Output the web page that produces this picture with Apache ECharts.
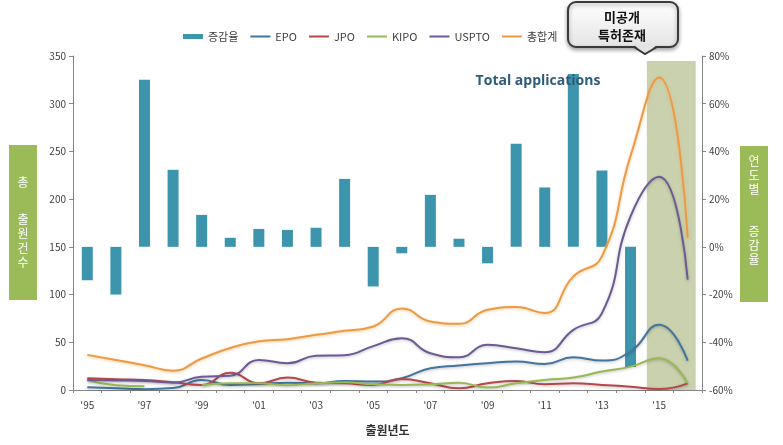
<!DOCTYPE html>
<html><head><meta charset="utf-8">
<script src="https://cdn.jsdelivr.net/npm/echarts@6/dist/echarts.min.js"></script>
<style>html,body{margin:0;padding:0;background:#fff}#c{width:783px;height:445px}</style>
</head><body><div id="c"></div>
<script>
const years = ['1995','1996','1997','1998','1999','2000','2001','2002','2003','2004','2005','2006','2007','2008','2009','2010','2011','2012','2013','2014','2015','2016'];
const growthRate = [-14, -20, 70, 32.3, 13.4, 3.8, 7.5, 7.1, 8.0, 28.5, -16.6, -2.7, 21.8, 3.4, -6.9, 43.2, 24.9, 72.5, 32.0, -50.4, null, null];
const epo   = [2.8, 1.8, 0.8, 2, 10.5, 5.3, 6.3, 7.7, 7, 9.5, 8.8, 12.3, 22.8, 25.6, 28, 29.8, 27.3, 34.3, 30.8, 40.3, 68.3, 30.8];
const jpo   = [12.3, 11.2, 10.5, 8, 5.3, 18.2, 7, 13, 7.7, 7, 5.3, 11.6, 7, 1.8, 7, 9.5, 6, 7, 5.3, 3.5, 1, 7];
const kipo  = [10.5, 5, 4, null, 5, 7, 7, 5, 7, 8, 6, 5.3, 6, 7.7, 2.5, 7, 10.5, 13, 19.3, 24.5, 33.3, 7];
const uspto = [10.5, 10, 9.5, 7.7, 14, 15, 31.5, 28, 36, 36.5, 46, 54.3, 38.5, 34.3, 47.3, 43.8, 39.6, 63, 80.6, 182, 223.5, 115.6];
const total = [36.8, 31.5, 26, 20.3, 33, 44, 51, 53.3, 57.8, 62, 66.6, 85.5, 71.8, 69.4, 84.1, 86.9, 80.6, 119.1, 140.1, 245.2, 327.6, 159.4];
const leftTicks = {min: 0, max: 350, interval: 50};
const rightTicks = {min: -60, max: 80, interval: 20};

const FONT = '"Noto Sans CJK KR", "Noto Sans", sans-serif';
const LINE_ICON = 'path://M0,1.5H20V3.5H0Z M0,0H0.01V0.01H0Z M0,4.99H0.01V5H0Z';
const chart = echarts.init(document.getElementById('c'));
const lineSeries = (name, data, color, w, glow) => ({
  name, type: 'line', data, yAxisIndex: 0, smooth: 0.5, symbol: 'none', showSymbol: false,
  connectNulls: false, z: 3,
  lineStyle: {color, width: w, shadowColor: glow || 'rgba(0,0,0,0.25)', shadowBlur: 3, shadowOffsetY: 1},
  itemStyle: {color}
});
chart.setOption({
  animation: false,
  textStyle: {fontFamily: FONT},
  grid: {left: 73, right: 81, top: 56, bottom: 55},
  legend: {
    left: 178, top: 26, itemGap: 12, itemWidth: 20, itemHeight: 5,
    textStyle: {fontSize: 11, color: '#404040', fontFamily: FONT},
    data: [{name: '증감율', icon: 'rect'},
           {name: 'EPO', icon: LINE_ICON}, {name: 'JPO', icon: LINE_ICON}, {name: 'KIPO', icon: LINE_ICON},
           {name: 'USPTO', icon: LINE_ICON}, {name: '총합계', icon: LINE_ICON}]
  },
  xAxis: {
    type: 'category', data: years, boundaryGap: true,
    name: '출원년도', nameLocation: 'middle', nameGap: 34,
    nameTextStyle: {fontSize: 12, fontWeight: 'bold', color: '#333', fontFamily: FONT},
    axisLine: {lineStyle: {color: '#868686'}},
    axisTick: {show: true, alignWithLabel: false, interval: 0, length: 3, lineStyle: {color: '#868686'}},
    axisLabel: {interval: 1, formatter: v => "'" + v.slice(2), fontSize: 10, color: '#404040', margin: 10}
  },
  yAxis: [
    {type: 'value', min: leftTicks.min, max: leftTicks.max, interval: leftTicks.interval,
     splitLine: {show: false},
     axisLine: {show: true, lineStyle: {color: '#868686'}},
     axisTick: {show: true, length: 4, lineStyle: {color: '#868686'}},
     axisLabel: {fontSize: 10, color: '#404040', margin: 7}},
    {type: 'value', min: rightTicks.min, max: rightTicks.max, interval: rightTicks.interval,
     splitLine: {show: false},
     axisLine: {show: true, lineStyle: {color: '#868686'}},
     axisTick: {show: true, length: 4, lineStyle: {color: '#868686'}},
     axisLabel: {fontSize: 10, color: '#404040', margin: 7, formatter: v => v + '%'}}
  ],
  series: [
    {name: '증감율', type: 'bar', yAxisIndex: 1, data: growthRate, barWidth: 11, z: 2,
     itemStyle: {color: '#3D95AD'}},
    lineSeries('EPO', epo, '#43759F', 2),
    lineSeries('JPO', jpo, '#B8474A', 2),
    lineSeries('KIPO', kipo, '#98B954', 2),
    lineSeries('USPTO', uspto, '#6D5A95', 2),
    lineSeries('총합계', total, '#EB9A45', 2, 'rgba(245,170,90,0.6)')
  ]
});

const x15 = chart.convertToPixel({xAxisIndex: 0}, '2015');
const x16 = chart.convertToPixel({xAxisIndex: 0}, '2016');
const catW = x16 - x15;
const yTop = chart.convertToPixel({yAxisIndex: 0}, 350);
const yBot = chart.convertToPixel({yAxisIndex: 0}, 0);
const rx0 = x15 - 0.43 * catW, rx1 = x16 + 0.28 * catW;

function charCol(chars, cx, ys) {
  return chars.map((ch, i) => ({type: 'text', z: 11, x: cx, y: ys[i],
    style: {text: ch, fill: '#fff', font: '12px ' + FONT, align: 'center', verticalAlign: 'middle'}}));
}
const calloutFill = {type: 'linear', x: 0, y: 0, x2: 0, y2: 1,
  colorStops: [{offset: 0, color: '#ffffff'}, {offset: 1, color: '#e4e4e4'}]};

chart.setOption({
  graphic: [
    {type: 'rect', z: 1, silent: true,
     shape: {x: rx0, y: yTop + 5, width: rx1 - rx0, height: yBot - yTop - 5},
     style: {fill: '#C9D1AE'}},
    {type: 'text', z: 10, x: 538, y: 81,
     style: {text: 'Total applications', fill: '#2F5B7A', font: 'bold 14px "Open Sans", sans-serif',
             align: 'center', verticalAlign: 'middle', shadowColor: 'rgba(120,140,160,0.6)', shadowBlur: 4}},
    {type: 'rect', z: 10, shape: {x: 9, y: 145, width: 28, height: 155}, style: {fill: '#9BBB59'}},
    ...charCol(['총', '출', '원', '건', '수'], 23, [182, 219, 233, 248, 262]),
    {type: 'rect', z: 10, shape: {x: 740, y: 146, width: 28, height: 156}, style: {fill: '#9BBB59'}},
    ...charCol(['연', '도', '별', '증', '감', '율'], 754, [161, 175, 189, 231, 245, 259]),
    {type: 'rect', z: 20, shape: {x: 568, y: 2, width: 110, height: 45, r: 8},
     style: {fill: calloutFill, stroke: '#3a3a3a', lineWidth: 2, shadowColor: 'rgba(0,0,0,0.35)', shadowBlur: 4, shadowOffsetY: 2}},
    {type: 'polygon', z: 21, shape: {points: [[634, 45], [657, 45], [645, 54]]},
     style: {fill: '#e4e4e4'}},
    {type: 'polyline', z: 22, shape: {points: [[634, 47], [645, 54], [657, 47]]},
     style: {stroke: '#3a3a3a', lineWidth: 2, fill: null}},
    {type: 'text', z: 23, x: 622, y: 17,
     style: {text: '미공개', fill: '#111', font: 'bold 13px ' + FONT, align: 'center', verticalAlign: 'middle'}},
    {type: 'text', z: 23, x: 622, y: 35,
     style: {text: '특허존재', fill: '#111', font: 'bold 13px ' + FONT, align: 'center', verticalAlign: 'middle'}}
  ]
});
</script></body></html>
